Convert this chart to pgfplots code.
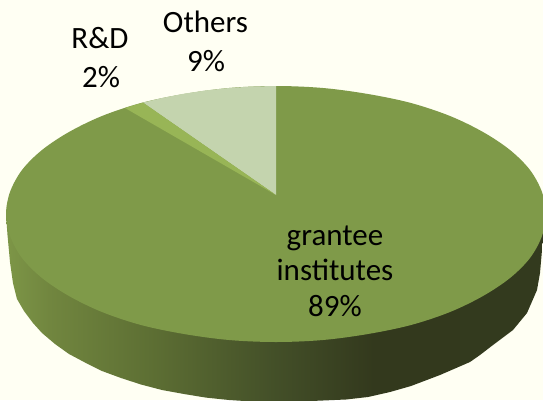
\documentclass[border=0pt]{standalone}
\usepackage{pgfplots}
\pgfplotsset{compat=1.18}
\usepackage{fontspec}
\setmainfont{Carlito}
\definecolor{bg}{HTML}{FFFFF3}
\definecolor{granteecol}{HTML}{7F9A49}
\definecolor{rdcol}{HTML}{98B556}
\definecolor{otherscol}{HTML}{C4D4AE}
\definecolor{sa}{HTML}{7D9647}
\definecolor{sb}{HTML}{71863F}
\definecolor{sc}{HTML}{5E7034}
\definecolor{sd}{HTML}{434F28}
\definecolor{se}{HTML}{33391D}
\definecolor{sf}{HTML}{333A1E}
% side of the pie, 25bp to 75bp is the width of the path
\pgfdeclarehorizontalshading{sideshade}{100bp}{
  color(0bp)=(sa); color(25bp)=(sa);
  color(29bp)=(sb); color(38bp)=(sc);
  color(50bp)=(sd); color(59bp)=(se);
  color(75bp)=(sf); color(100bp)=(sf)}

\begin{document}
\begin{tikzpicture}[lab/.style={anchor=base, inner sep=0pt, text=black, font=\fontsize{31}{36}\selectfont}]
\begin{axis}[
  scale only axis,
  width=543pt, height=400pt,
  xmin=0, xmax=543, ymin=0, ymax=400,
  y dir=reverse,
  ticks=none,
  axis line style={draw=none},
  axis background/.style={fill=bg},
]
  % side
  \addplot[shading=sideshade, draw=none] coordinates {
    (6,214)(7.5,235)(10,262)(13,283)(17,299)(24,311)(33,323)(42,333)(55,344)(69,354)
    (85,362.5)(102,371)(121,378)(141,384.5)(162,390)(184,394)(206,397.6)(229,400)
    (252.5,401.5)(276,402)(299.5,401.5)(323,400.5)(346,399.5)(368,397)(390,392)
    (411,386)(440,375)(470,362)(480,355)(493,345)(513,330)(527,313)(537,290)(540,273)
    (542,250)(546,214)(276,214)(6,214)};

  % top face, whole ellipse in the main colour
  \addplot[fill=granteecol, draw=none, smooth, tension=0.55] coordinates {
    (546,214)(542,236)(530,258)(510,278)(483,296)(450,312)(411,325)(368,334)(323,340)
    (276,342)(229,340)(184,334)(141,325)(102,312)(69,296)(42,278)(22,258)(10,236)
    (6,214)(10,192)(22,170)(42,150)(69,132)(102,116)(141,103)(184,94)(229,88)
    (276,86)(323,88)(368,94)(411,103)(450,116)(483,132)(510,150)(530,170)(542,192)
    (546,214)};

  % Others
  \addplot[fill=otherscol, draw=none] coordinates {
    (276,195)(276,86)(252.5,86.5)(229,88)(206,90.4)(184,93.7)(162,98)(143,102.6)(276,195)};
  % R&D
  \addplot[fill=rdcol, draw=none] coordinates {
    (276,195)(143,102.6)(134,105.2)(125,108)(276,195)};

  \node[lab] at (axis cs:100,48) {R\&D};
  \node[lab] at (axis cs:101,87) {2\%};
  \node[lab] at (axis cs:205.5,32) {Others};
  \node[lab] at (axis cs:206,71) {9\%};
  \node[lab] at (axis cs:335,245) {grantee};
  \node[lab] at (axis cs:335,280) {institutes};
  \node[lab] at (axis cs:335,316) {89\%};
\end{axis}
\end{tikzpicture}
\end{document}
